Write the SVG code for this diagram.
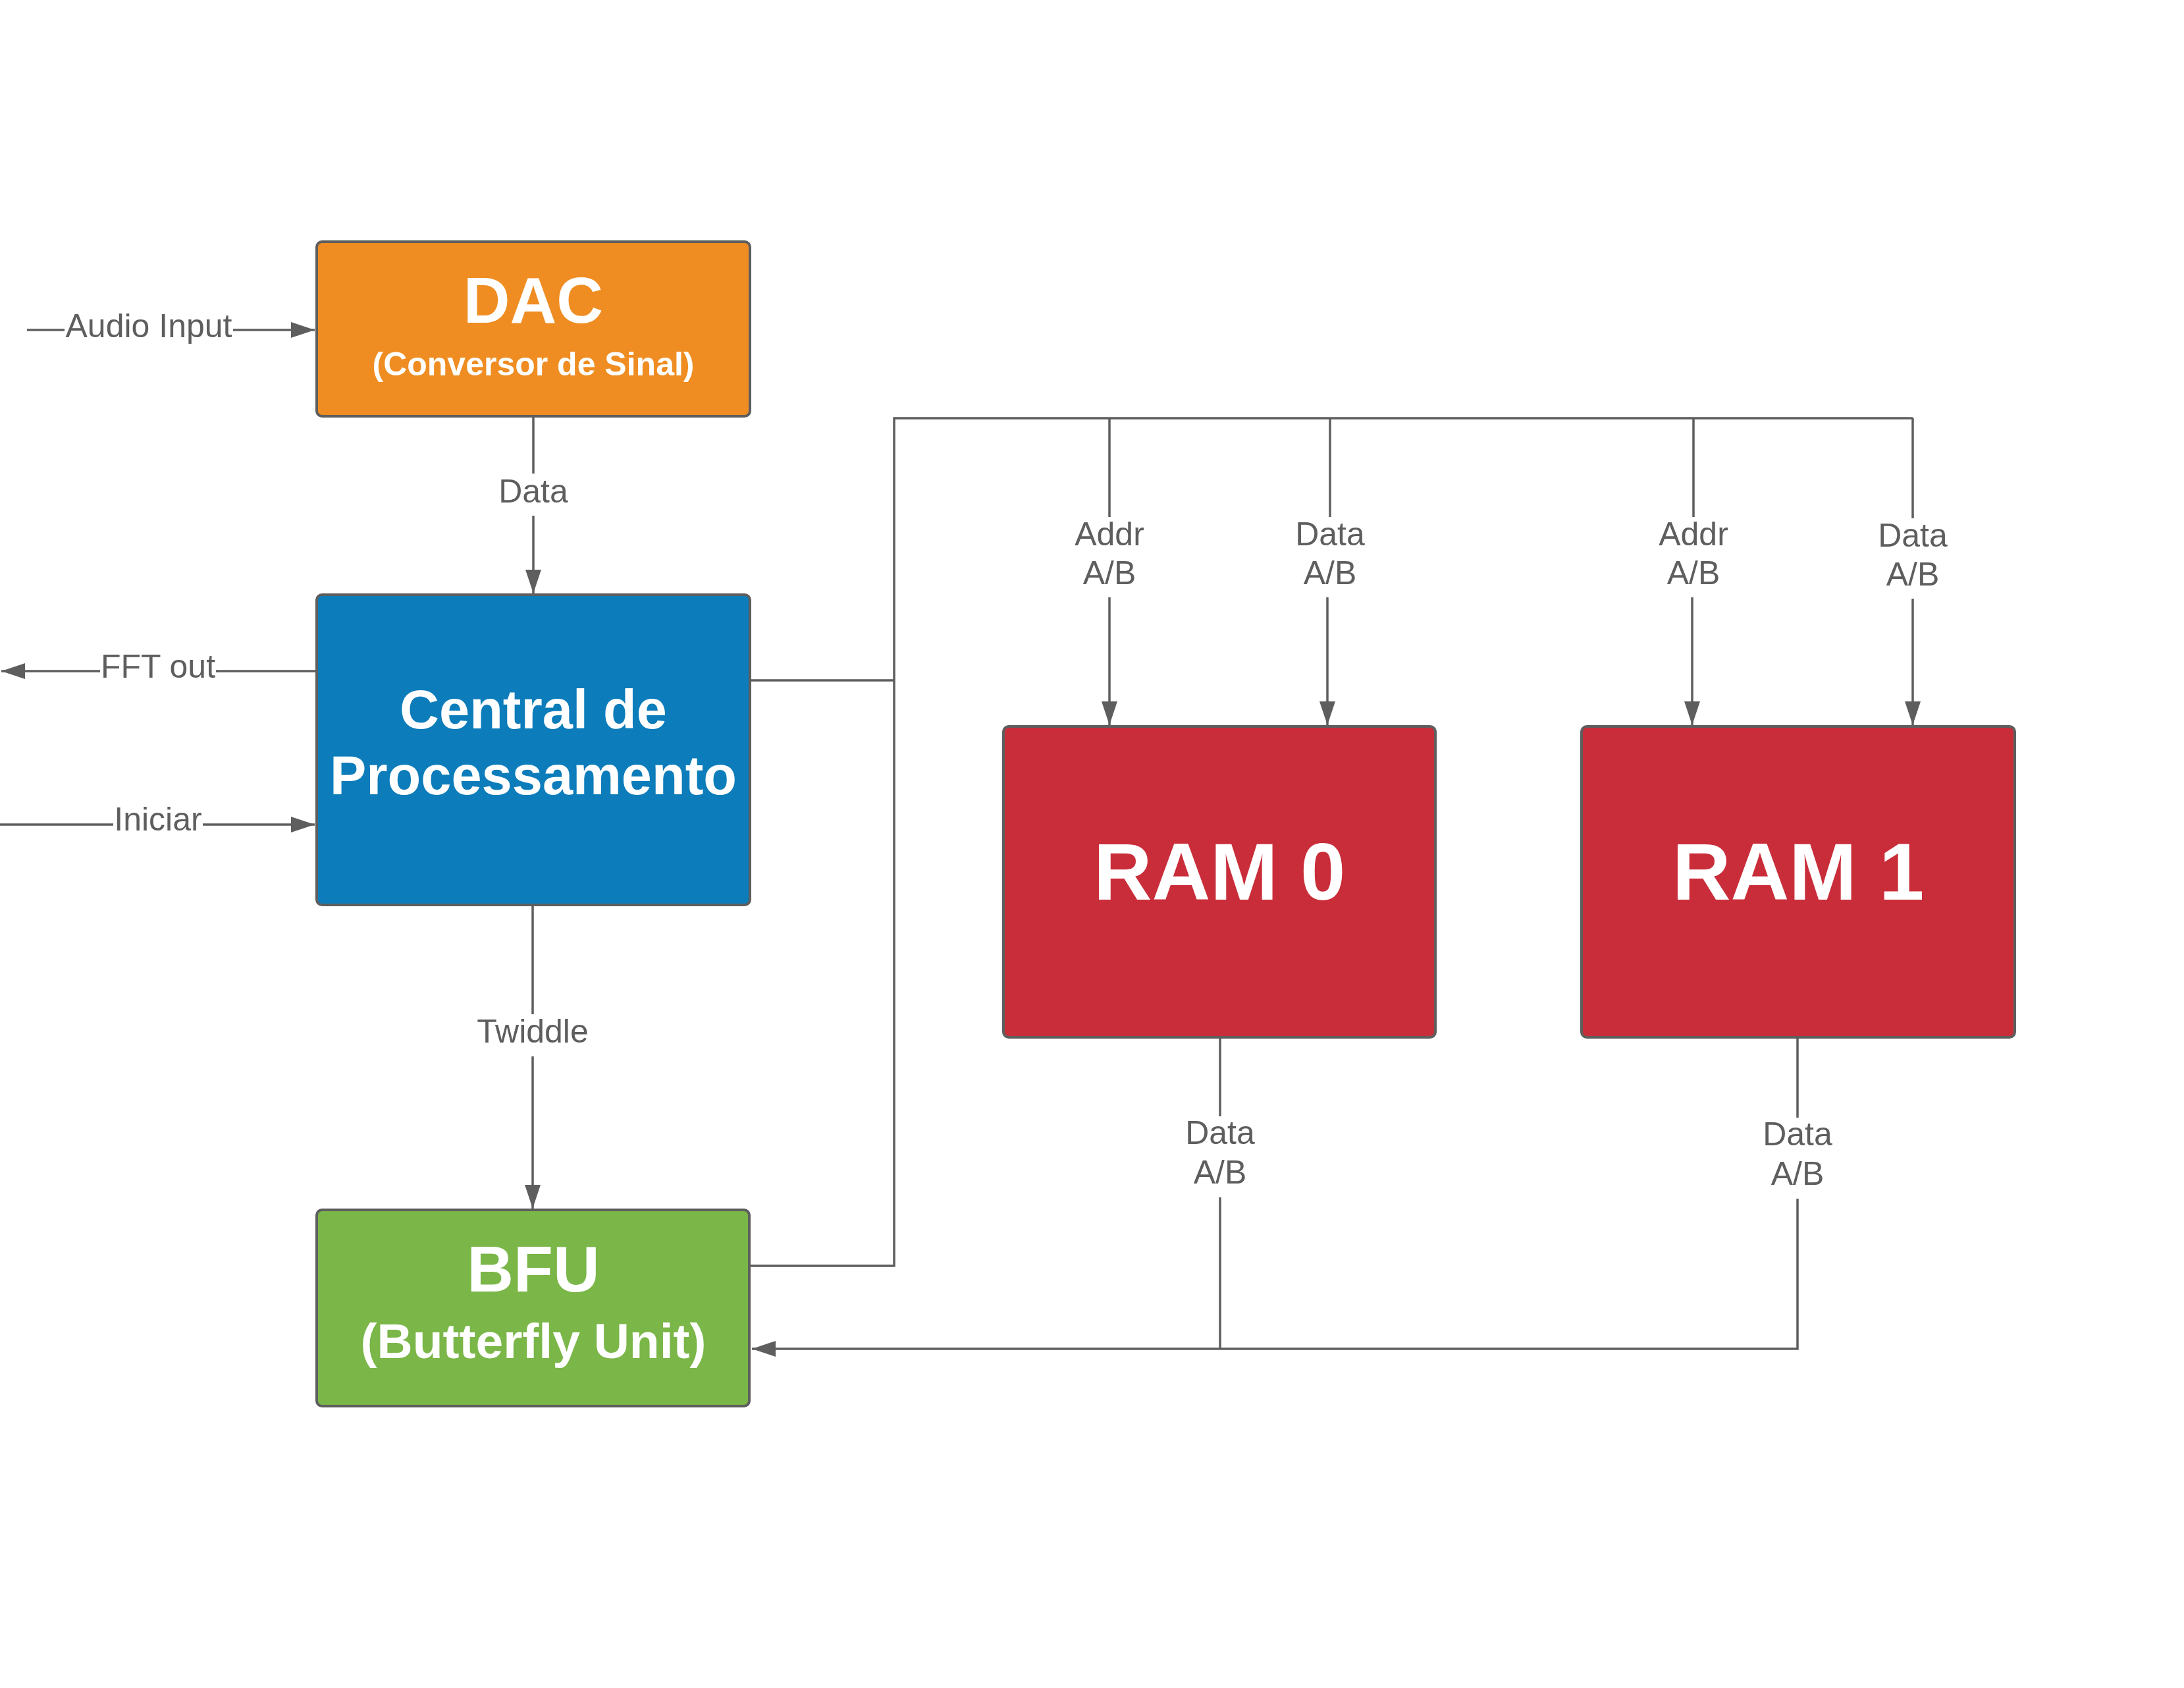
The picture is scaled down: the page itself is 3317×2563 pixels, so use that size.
<svg xmlns="http://www.w3.org/2000/svg" width="3317" height="2563" viewBox="0 0 3317 2563">
<defs>
<marker id="arr" markerUnits="userSpaceOnUse" markerWidth="38" markerHeight="26" refX="36" refY="12" orient="auto">
<path d="M0,0 L36,12 L0,24 z" fill="#5e5e5e"/>
</marker>
<style>
.box{stroke:#5e5e5e;stroke-width:4}
.ln{fill:none;stroke:#5e5e5e;stroke-width:3.5}
.lbl{font-family:"Liberation Sans",Arial,sans-serif;font-size:50px;fill:#5e5e5e;text-anchor:middle}
.t{font-family:"Liberation Sans",Arial,sans-serif;font-weight:bold;fill:#ffffff;text-anchor:middle}
</style>
</defs>
<rect width="3317" height="2563" fill="#ffffff"/>
<g id="connectors">
<path class="ln" d="M41,501 L98,501"/>
<path class="ln" d="M354,501 L478,501" marker-end="url(#arr)"/>
<text class="lbl" x="226" y="512">Audio Input</text>
<path class="ln" d="M481,1019 L328,1019"/>
<path class="ln" d="M152,1019 L2,1019" marker-end="url(#arr)"/>
<text class="lbl" x="240" y="1029">FFT out</text>
<path class="ln" d="M0,1252 L172,1252"/>
<path class="ln" d="M308,1252 L478,1252" marker-end="url(#arr)"/>
<text class="lbl" x="240" y="1261">Iniciar</text>
<path class="ln" d="M810,632 L810,719"/>
<path class="ln" d="M810,783 L810,901" marker-end="url(#arr)"/>
<text class="lbl" x="810" y="763">Data</text>
<path class="ln" d="M809,1374 L809,1540"/>
<path class="ln" d="M809,1604 L809,1835" marker-end="url(#arr)"/>
<text class="lbl" x="809" y="1583">Twiddle</text>
<path class="ln" d="M1139,1033 L1358,1033"/>
<path class="ln" d="M1138,1922 L1358,1922 L1358,635 L2905,635"/>
<path class="ln" d="M1685,635 L1685,785"/>
<path class="ln" d="M1685,907 L1685,1101" marker-end="url(#arr)"/>
<text class="lbl" x="1685" y="828">Addr</text>
<text class="lbl" x="1685" y="887">A/B</text>
<path class="ln" d="M2020,635 L2020,785"/>
<path class="ln" d="M2016,907 L2016,1101" marker-end="url(#arr)"/>
<text class="lbl" x="2020" y="828">Data</text>
<text class="lbl" x="2020" y="887">A/B</text>
<path class="ln" d="M2572,635 L2572,785"/>
<path class="ln" d="M2570,907 L2570,1101" marker-end="url(#arr)"/>
<text class="lbl" x="2572" y="828">Addr</text>
<text class="lbl" x="2572" y="887">A/B</text>
<path class="ln" d="M2905,635 L2905,787"/>
<path class="ln" d="M2905,909 L2905,1101" marker-end="url(#arr)"/>
<text class="lbl" x="2905" y="830">Data</text>
<text class="lbl" x="2905" y="889">A/B</text>
<path class="ln" d="M1853,1575 L1853,1695"/>
<text class="lbl" x="1853" y="1737">Data</text>
<text class="lbl" x="1853" y="1797">A/B</text>
<path class="ln" d="M1853,1818 L1853,2048"/>
<path class="ln" d="M2730,1575 L2730,1697"/>
<text class="lbl" x="2730" y="1739">Data</text>
<text class="lbl" x="2730" y="1799">A/B</text>
<path class="ln" d="M2730,1820 L2730,2048 L1142,2048" marker-end="url(#arr)"/>
</g>
<g id="dac">
<rect class="box" x="481" y="367" width="658" height="265" rx="8" fill="#ef8d22"/>
<text class="t" x="810" y="490" font-size="98">DAC</text>
<text class="t" x="810" y="570" font-size="50">(Conversor de Sinal)</text>
</g>
<g id="central">
<rect class="box" x="481" y="903" width="658" height="471" rx="8" fill="#0c7cba"/>
<text class="t" x="810" y="1106" font-size="83">Central de</text>
<text class="t" x="810" y="1206" font-size="83">Processamento</text>
</g>
<g id="bfu">
<rect class="box" x="481" y="1837" width="657" height="298" rx="8" fill="#7ab648"/>
<text class="t" x="810" y="1961" font-size="98">BFU</text>
<text class="t" x="810" y="2062" font-size="75">(Butterfly Unit)</text>
</g>
<g id="ram0">
<rect class="box" x="1524" y="1103" width="656" height="472" rx="8" fill="#c92d39"/>
<text class="t" x="1852" y="1366" font-size="123">RAM 0</text>
</g>
<g id="ram1">
<rect class="box" x="2402" y="1103" width="658" height="472" rx="8" fill="#c92d39"/>
<text class="t" x="2731" y="1366" font-size="123">RAM 1</text>
</g>
</svg>
